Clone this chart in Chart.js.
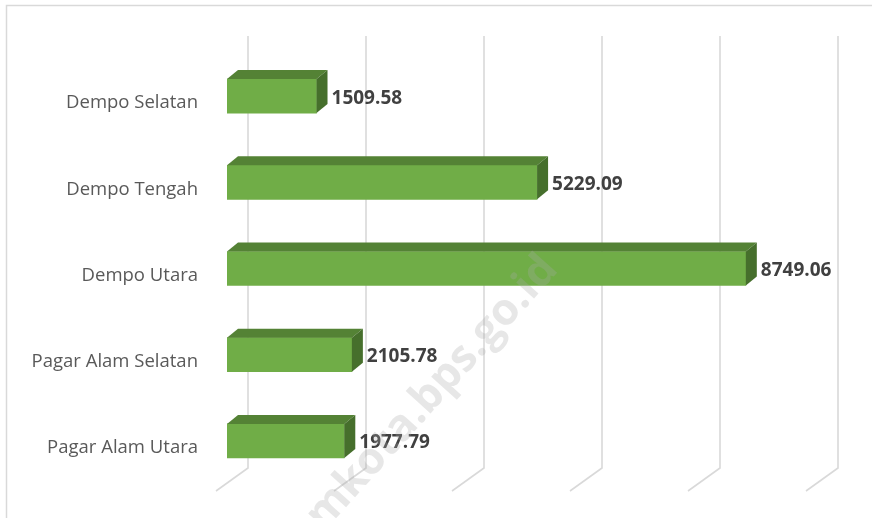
<!DOCTYPE html>
<html>
<head>
<meta charset="utf-8">
<script src="https://cdn.jsdelivr.net/npm/chart.js@4.4.1/dist/chart.umd.min.js"></script>
<style>
  html, body { margin: 0; padding: 0; background: #fff; }
  #wrap { width: 872px; height: 518px; }
</style>
</head>
<body>
<div id="wrap"><canvas id="chart" width="872" height="518"></canvas></div>
<script>
  // data
  const categories = ['Dempo Selatan', 'Dempo Tengah', 'Dempo Utara', 'Pagar Alam Selatan', 'Pagar Alam Utara'];
  const values = [1509.58, 5229.09, 8749.06, 2105.78, 1977.79];
  const gridTicks = [0, 2000, 4000, 6000, 8000, 10000];
  const watermark = 'pagaralamkota.bps.go.id';

  const FRONT = '#70ad47', TOP = '#548235', SIDE = '#466f2c';
  const DEPTH = { dx: 11, dy: -9 };          // bar depth
  const WALL = { dx: 21, floorDx: -32, floorDy: 23 }; // back wall / floor offset

  // white background + light frame
  const frame = {
    id: 'frame',
    beforeDraw(chart) {
      const c = chart.ctx;
      c.save();
      c.fillStyle = '#fff';
      c.fillRect(0, 0, chart.width, chart.height);
      c.strokeStyle = '#d9d9d9';
      c.lineWidth = 1.5;
      c.strokeRect(6.5, 5.5, 1000, 1000);
      c.restore();
    }
  };

  // back-wall gridlines with slanted floor lines
  const wallGrid = {
    id: 'wallGrid',
    beforeDatasetsDraw(chart) {
      const c = chart.ctx, x = chart.scales.x;
      c.save();
      c.strokeStyle = '#d9d9d9';
      c.lineWidth = 1.6;
      gridTicks.forEach(v => {
        const px = x.getPixelForValue(v) + WALL.dx - 3 * v / 10000;
        c.beginPath();
        c.moveTo(px, 36);
        c.lineTo(px, 468);
        c.lineTo(px + WALL.floorDx, 468 + WALL.floorDy);
        c.stroke();
      });
      c.restore();
    }
  };

  // top + side faces and the value labels
  const bars3d = {
    id: 'bars3d',
    afterDatasetsDraw(chart) {
      const c = chart.ctx;
      const meta = chart.getDatasetMeta(0);
      c.save();
      meta.data.forEach((bar, i) => {
        const { x, y, base, height } = bar.getProps(['x', 'y', 'base', 'height'], true);
        const top = y - height / 2, bot = y + height / 2;
        c.fillStyle = TOP;
        c.beginPath();
        c.moveTo(base, top);
        c.lineTo(x, top);
        c.lineTo(x + DEPTH.dx, top + DEPTH.dy);
        c.lineTo(base + DEPTH.dx, top + DEPTH.dy);
        c.closePath();
        c.fill();
        c.fillStyle = SIDE;
        c.beginPath();
        c.moveTo(x, top);
        c.lineTo(x + DEPTH.dx, top + DEPTH.dy);
        c.lineTo(x + DEPTH.dx, bot + DEPTH.dy);
        c.lineTo(x, bot);
        c.closePath();
        c.fill();

        c.fillStyle = '#404040';
        c.font = 'bold 19px "Open Sans"';
        c.textAlign = 'left';
        c.textBaseline = 'middle';
        c.fillText(values[i].toFixed(2), x + DEPTH.dx + 4, y + 2);
      });
      c.restore();
    }
  };

  const mark = {
    id: 'mark',
    afterDraw(chart) {
      const c = chart.ctx;
      c.save();
      c.translate(550, 262);
      c.rotate(-48 * Math.PI / 180);
      c.font = 'bold 44px "Open Sans"';
      c.textAlign = 'right';
      c.textBaseline = 'middle';
      c.fillStyle = 'rgba(170,170,170,0.28)';
      c.fillText(watermark, 0, 0);
      c.restore();
    }
  };

  new Chart(document.getElementById('chart'), {
    type: 'bar',
    data: {
      labels: categories,
      datasets: [{ data: values, backgroundColor: FRONT, borderWidth: 0, barThickness: 34 }]
    },
    options: {
      indexAxis: 'y',
      responsive: false,
      animation: false,
      layout: { padding: { top: 53, bottom: 34, right: 52, left: 0 } },
      plugins: { legend: { display: false }, tooltip: { enabled: false } },
      scales: {
        x: { display: false, min: 0, max: 10000 },
        y: {
          grid: { display: false, drawTicks: false },
          border: { display: false },
          ticks: { color: '#595959', font: { family: 'Open Sans', size: 18.5 }, padding: 29, labelOffset: 7 },
          afterFit(s) { s.width = 227; s.paddingTop = 0; s.paddingBottom = 0; }
        }
      }
    },
    plugins: [frame, wallGrid, bars3d, mark]
  });
</script>
</body>
</html>
